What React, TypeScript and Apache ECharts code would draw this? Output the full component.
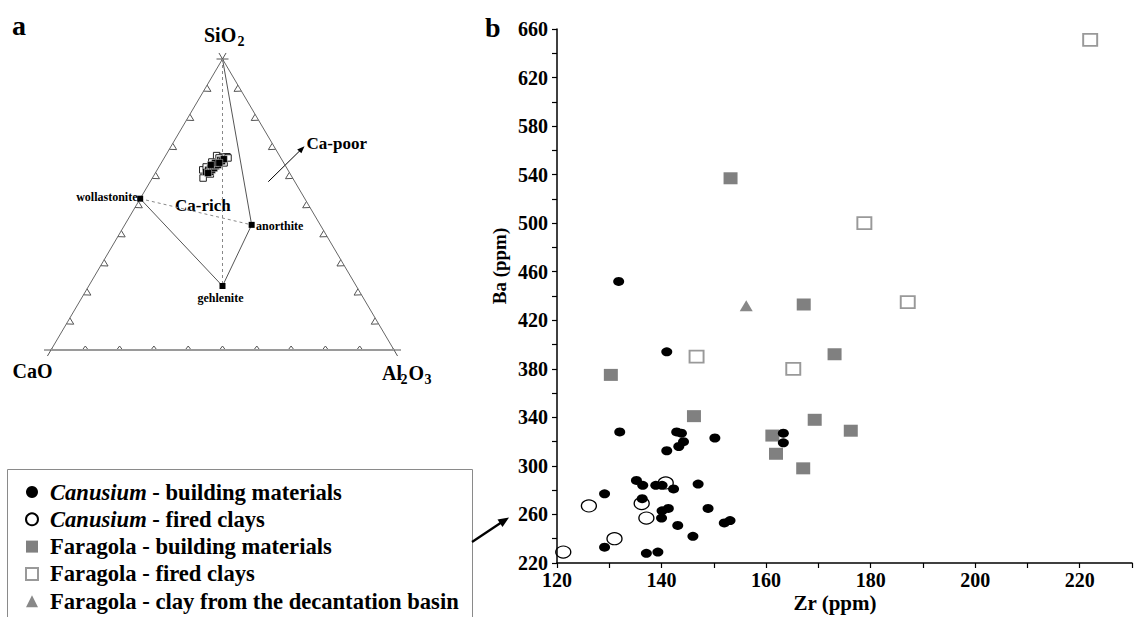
import React, { useEffect, useRef } from 'react';
import * as echarts from 'echarts';

const FONT = "'Liberation Serif', 'Times New Roman', Times, serif";

// ---------- Panel b : Ba vs Zr ----------
const seriesNames = [
  'Canusium - building materials',
  'Canusium - fired clays',
  'Faragola - building materials',
  'Faragola - fired clays',
  'Faragola - clay from the decantation basin',
];

const canusiumBuildingZr = [141.0, 132.0, 142.9, 143.8, 144.2, 143.3, 141.0, 150.2, 135.2, 136.4, 138.9, 140.1, 142.3, 147.0, 129.1, 136.3, 140.1, 141.3, 148.9, 140.0, 143.1, 152.0, 153.1, 146.0, 129.1, 137.1, 139.3, 163.3, 163.3, 131.8];
const canusiumBuildingBa = [394, 328, 328, 327, 320, 316, 312.5, 323, 288, 284, 284, 284, 281, 285, 277, 273, 263, 265, 265, 257, 251, 253, 255, 242, 233, 228, 229, 327, 319, 452];

const canusiumFiredZr = [121.2, 126.1, 131.0, 136.2, 137.1, 140.8];
const canusiumFiredBa = [229, 267, 240, 269, 257, 286];

const faragolaBuildingZr = [153.2, 130.3, 167.2, 173.1, 146.2, 161.2, 161.9, 167.1, 169.3, 176.2];
const faragolaBuildingBa = [537, 375, 433, 392, 341, 325, 310, 298, 338, 329];

const faragolaFiredZr = [222.0, 178.8, 146.7, 165.2, 187.1];
const faragolaFiredBa = [651, 500, 390, 380, 435];

const basinZr = [156.2];
const basinBa = [432];

// ---------- Panel a : ternary SiO2 - CaO - Al2O3 (wt%) ----------
const mineralNames = ['wollastonite', 'anorthite', 'gehlenite'];
const mineralSiO2 = [52, 43, 22];
const mineralCaO = [48, 20, 39];
const mineralAl2O3 = [0, 37, 39];

const filledSiO2 = [61.2, 61.9, 62.5, 61.2, 63.2, 61.9, 63.9, 62.5, 63.9, 63.2, 64.6, 63.6, 64.6, 65.3, 64.9, 65.6, 60.8, 64.3, 64.3, 63.6];
const filledAl2O3 = [14.6, 14.9, 15.2, 15.8, 15.3, 16.0, 15.6, 16.3, 16.2, 16.5, 16.4, 16.9, 17.0, 16.7, 17.4, 17.6, 15.4, 15.7, 16.9, 14.8];
const filledCaO = [24.2, 23.2, 22.3, 23.0, 21.5, 22.1, 20.5, 21.2, 19.9, 20.3, 19.0, 19.5, 18.4, 18.0, 17.7, 16.8, 23.8, 20.0, 18.8, 21.6];

const openSiO2 = [59.1, 61.9, 66.4, 66.8, 62.9, 66.3, 64.3, 64.6, 60.5, 66.0, 66.0];
const openAl2O3 = [14.8, 13.3, 18.1, 14.9, 13.8, 16.8, 18.3, 14.6, 16.2, 16.0, 18.6];
const openCaO = [26.1, 24.8, 15.5, 18.3, 23.3, 16.9, 17.4, 20.8, 23.3, 18.0, 15.4];

const ternaryTicks = [10, 20, 30, 40, 50, 60, 70, 80, 90];

// ternary composition -> cartesian (x in 0..1, y = SiO2 fraction)
function tern(si: number, ca: number, al: number): [number, number] {
  const s = si + ca + al;
  const S = si / s;
  const A = al / s;
  return [A + S / 2, S];
}

const zip = (a: number[], b: number[]) => a.map((v, i) => [v, b[i]]);

export default function App() {
  const ref = useRef<HTMLDivElement>(null);

  useEffect(() => {
    if (!ref.current) return;
    const chart = echarts.init(ref.current, undefined, { renderer: 'svg' });

    const vCaO = tern(0, 100, 0);
    const vAl = tern(0, 0, 100);
    const vSi = tern(100, 0, 0);
    const min = mineralNames.map((_, i) => tern(mineralSiO2[i], mineralCaO[i], mineralAl2O3[i]));
    const [wol, ano, geh] = min;

    const tickData: number[][] = [];
    ternaryTicks.forEach((t) => {
      const b = tern(0, 100 - t, t);
      tickData.push([b[0], b[1], 0]);
      const l = tern(t, 100 - t, 0);
      tickData.push([l[0], l[1], 1]);
      const r = tern(t, 0, 100 - t);
      tickData.push([r[0], r[1], 2]);
    });

    const tAxis = { gridIndex: 1, type: 'value', min: 0, max: 1, show: false };
    const tBase = { xAxisIndex: 1, yAxisIndex: 1, silent: true, animation: false };
    const lineS = (data: any[], color: string, width: number, dashed = false, z = 2) => ({
      ...tBase,
      type: 'line',
      data,
      symbol: 'none',
      z,
      lineStyle: { color, width, type: dashed ? [3, 3] : 'solid' },
    });

    const labelStyle = {
      fontFamily: FONT,
      fontWeight: 'bold',
      fontSize: 20,
      color: '#000',
    };

    const richBase = { fontFamily: FONT, fontWeight: 'bold', fontSize: 22.6, color: '#000', lineHeight: 22 };

    const txt = (text: string, x: number, y: number, size: number, align = 'left', extra: any = {}) => ({
      type: 'text',
      x,
      y,
      silent: true,
      style: {
        text,
        fontFamily: FONT,
        fontWeight: 'bold',
        fontSize: size,
        fill: '#000',
        textAlign: align,
        textVerticalAlign: 'middle',
      },
      ...extra,
    });

    const option: any = {
      animation: false,
      backgroundColor: '#fff',
      grid: [
        { left: 557, top: 29, width: 586.67, height: 534 },
        { left: 51, top: 59, width: 343, height: 291 },
      ],
      xAxis: [
        {
          gridIndex: 0,
          type: 'value',
          min: 120,
          max: 230,
          interval: 10,
          splitLine: { show: false },
          axisLine: { show: true, lineStyle: { color: '#000', width: 1.5 } },
          axisTick: { show: true, length: 5, lineStyle: { color: '#000', width: 1.2 } },
          axisLabel: {
            ...labelStyle,
            margin: 7,
            formatter: (v: number) => ((v - 120) % 20 === 0 ? String(v) : ''),
          },
        },
        { ...tAxis },
      ],
      yAxis: [
        {
          gridIndex: 0,
          type: 'value',
          min: 220,
          max: 660,
          interval: 20,
          splitLine: { show: false },
          axisLine: { show: true, lineStyle: { color: '#000', width: 1.5 } },
          axisTick: { show: true, length: 5, lineStyle: { color: '#000', width: 1.2 } },
          axisLabel: {
            ...labelStyle,
            margin: 9,
            formatter: (v: number) => ((v - 220) % 40 === 0 ? String(v) : ''),
          },
        },
        { ...tAxis },
      ],
      legend: {
        orient: 'vertical',
        left: 25,
        top: 480.5,
        height: 160,
        padding: 0,
        itemWidth: 12,
        itemHeight: 12,
        itemGap: 4.3,
        data: seriesNames,
        selectedMode: false,
        formatter: (name: string) =>
          name.startsWith('Canusium')
            ? `{i|Canusium}{b|${name.slice(8)}}`
            : `{b0|${name}}`,
        textStyle: {
          ...richBase,
          rich: {
            i: { ...richBase, fontStyle: 'italic', padding: [0, 0, 0, 7] },
            b: { ...richBase },
            b0: { ...richBase, padding: [0, 0, 0, 7] },
          },
        },
      },
      series: [
        // ----- panel b -----
        {
          name: seriesNames[2],
          type: 'scatter',
          data: zip(faragolaBuildingZr, faragolaBuildingBa),
          symbol: 'rect',
          symbolSize: [14, 12],
          itemStyle: { color: '#808080', opacity: 1 },
        },
        {
          name: seriesNames[3],
          type: 'scatter',
          data: zip(faragolaFiredZr, faragolaFiredBa),
          symbol: 'rect',
          symbolSize: [14, 12],
          itemStyle: { color: '#ffffff', borderColor: '#999999', borderWidth: 1.8, opacity: 1 },
        },
        {
          name: seriesNames[4],
          type: 'scatter',
          data: zip(basinZr, basinBa),
          symbol: 'triangle',
          symbolSize: [13, 11],
          itemStyle: { color: '#888888', opacity: 1 },
        },
        {
          name: seriesNames[0],
          type: 'scatter',
          data: zip(canusiumBuildingZr, canusiumBuildingBa),
          symbol: 'circle',
          symbolSize: [11, 9],
          itemStyle: { color: '#000000', opacity: 1 },
        },
        {
          name: seriesNames[1],
          type: 'scatter',
          data: zip(canusiumFiredZr, canusiumFiredBa),
          symbol: 'circle',
          symbolSize: [15, 12],
          itemStyle: { color: 'rgba(255,255,255,0)', borderColor: '#000000', borderWidth: 1.2, opacity: 1 },
        },
        // ----- panel a (ternary) -----
        lineS([vCaO, vSi, vAl], '#666', 1),
        lineS([vCaO, vAl], '#9a9a9a', 2.2),
        lineS([vSi, ano], '#555', 1),
        lineS([wol, geh, ano], '#555', 1),
        lineS([wol, ano], '#888', 1, true),
        lineS([vSi, geh], '#888', 1, true),
        {
          ...tBase,
          type: 'custom',
          data: tickData,
          encode: { x: 0, y: 1 },
          renderItem: (params: any, api: any) => {
            const p = api.coord([api.value(0), api.value(1)]);
            const e = api.value(2);
            const V = [api.coord(vCaO), api.coord(vAl), api.coord(vSi)];
            const edges = [[0, 1], [0, 2], [1, 2]];
            const [a, b] = edges[e];
            let tx = V[b][0] - V[a][0];
            let ty = V[b][1] - V[a][1];
            const L = Math.hypot(tx, ty);
            tx /= L;
            ty /= L;
            const cx = (V[0][0] + V[1][0] + V[2][0]) / 3;
            const cy = (V[0][1] + V[1][1] + V[2][1]) / 3;
            let nx = -ty;
            let ny = tx;
            if ((cx - p[0]) * nx + (cy - p[1]) * ny < 0) {
              nx = -nx;
              ny = -ny;
            }
            const h = e === 0 ? 4 : 6.5;
            const w = e === 0 ? 3 : 3.5;
            return {
              type: 'polyline',
              shape: {
                points: [
                  [p[0] + tx * w, p[1] + ty * w],
                  [p[0] + nx * h, p[1] + ny * h],
                  [p[0] - tx * w, p[1] - ty * w],
                ],
              },
              style: { stroke: '#555', lineWidth: 1, fill: null },
            };
          },
        },
        {
          ...tBase,
          type: 'custom',
          data: [
            [vCaO[0], vCaO[1], 0],
            [vAl[0], vAl[1], 1],
            [vSi[0], vSi[1], 2],
          ],
          encode: { x: 0, y: 1 },
          renderItem: (params: any, api: any) => {
            const k = api.value(2);
            const V = [api.coord(vCaO), api.coord(vAl), api.coord(vSi)];
            const p = V[k];
            const others = [0, 1, 2].filter((j) => j !== k);
            const children: any[] = others.map((j) => {
              let dx = V[j][0] - p[0];
              let dy = V[j][1] - p[1];
              const L = Math.hypot(dx, dy);
              dx /= L;
              dy /= L;
              return {
                type: 'line',
                shape: { x1: p[0] - dx * 7, y1: p[1] - dy * 7, x2: p[0] + dx * 2, y2: p[1] + dy * 2 },
                style: { stroke: '#555', lineWidth: 1 },
              };
            });
            if (k === 2) {
              children.push({
                type: 'line',
                shape: { x1: p[0] - 6, y1: p[1], x2: p[0] + 6, y2: p[1] },
                style: { stroke: '#555', lineWidth: 1 },
              });
            }
            return { type: 'group', children };
          },
        },
        {
          ...tBase,
          type: 'scatter',
          z: 3,
          data: openSiO2.map((_, i) => tern(openSiO2[i], openCaO[i], openAl2O3[i])),
          symbol: 'rect',
          symbolSize: 6.5,
          itemStyle: { color: '#fff', borderColor: '#222', borderWidth: 1, opacity: 1 },
        },
        {
          ...tBase,
          type: 'scatter',
          z: 4,
          data: filledSiO2.map((_, i) => tern(filledSiO2[i], filledCaO[i], filledAl2O3[i])),
          symbol: 'rect',
          symbolSize: 7,
          itemStyle: { color: '#000', borderColor: '#fff', borderWidth: 0.4, opacity: 1 },
        },
        {
          ...tBase,
          type: 'scatter',
          z: 5,
          data: min,
          symbol: 'rect',
          symbolSize: 6,
          itemStyle: { color: '#000', opacity: 1 },
        },
      ],
      graphic: [
        // panel letters
        txt('a', 12, 25.5, 28),
        txt('b', 485, 27, 28),
        // ternary apex labels
        txt('SiO', 204, 35.3, 20),
        txt('2', 237.5, 41, 14),
        txt('CaO', 12.5, 371.3, 20),
        txt('Al', 382, 373.3, 20),
        txt('2', 400.5, 379, 14),
        txt('O', 408.5, 373.3, 20),
        txt('3', 424.5, 379, 14),
        // mineral / field labels
        txt('wollastonite', 137.5, 197, 12, 'right'),
        txt('anorthite', 256, 226, 12),
        txt('gehlenite', 220.5, 297.5, 12, 'center'),
        txt('Ca-rich', 175, 205, 17),
        txt('Ca-poor', 306.5, 143, 17),
        // Ca-poor arrow
        {
          type: 'line',
          silent: true,
          shape: { x1: 268.3, y1: 181.7, x2: 301, y2: 149.6 },
          style: { stroke: '#000', lineWidth: 1 },
        },
        {
          type: 'polygon',
          silent: true,
          shape: { points: [[304.5, 146.2], [297.2, 149.4], [301.4, 153.3]] },
          style: { fill: '#000' },
        },
        // legend frame
        {
          type: 'rect',
          silent: true,
          shape: { x: 7.5, y: 469.5, width: 465, height: 170 },
          style: { fill: 'none', stroke: '#8a8a8a', lineWidth: 1 },
        },
        // pointer arrow from legend to panel b
        {
          type: 'line',
          silent: true,
          shape: { x1: 472, y1: 542, x2: 502, y2: 522 },
          style: { stroke: '#000', lineWidth: 2.2 },
        },
        {
          type: 'polygon',
          silent: true,
          shape: { points: [[509, 517.5], [497.5, 519.5], [502.5, 527]] },
          style: { fill: '#000' },
        },
        // axis titles
        txt('Ba (ppm)', 499, 266, 19, 'center', { rotation: Math.PI / 2 }),
        txt('Zr (ppm)', 835, 603, 21, 'center'),
      ],
    };

    chart.setOption(option);
    return () => chart.dispose();
  }, []);

  return (
    <div
      ref={ref}
      style={{ position: 'fixed', left: 0, top: 0, width: 1135, height: 617, background: '#fff' }}
    />
  );
}
